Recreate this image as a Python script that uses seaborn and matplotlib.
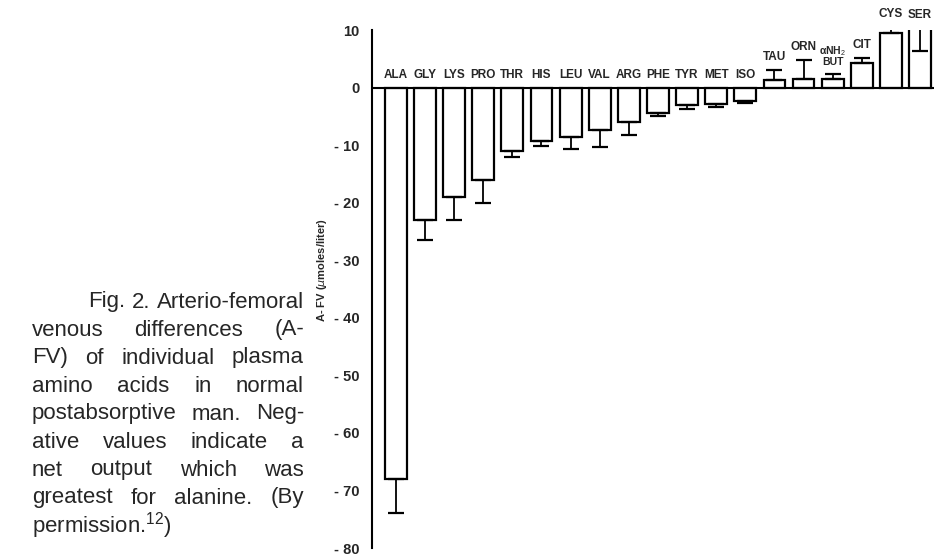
import numpy as np
import matplotlib
matplotlib.use('Agg')
import matplotlib.pyplot as plt
import seaborn as sns

# A-FV differences (umoles/liter)
amino = ['ALA', 'GLY', 'LYS', 'PRO', 'THR', 'HIS', 'LEU', 'VAL', 'ARG', 'PHE',
         'TYR', 'MET', 'ISO', 'TAU', 'ORN', 'αNH$_2$\nBUT', 'CIT', 'CYS', 'SER']
afv = [-68, -23, -19, -16, -11, -9.3, -8.6, -7.4, -6.0, -4.4,
       -3.1, -2.8, -2.3, 1.3, 1.5, 1.4, 4.2, 9.4, 10.3]
err_lo = [6, 3.5, 4, 4, 1, 0.9, 2, 3, 2.3, 0.6,
          0.6, 0.5, 0.3, 0, 0, 0, 0, 0, 3.9]
err_hi = [0, 0, 0, 0, 0, 0, 0, 0, 0, 0,
          0, 0, 0, 1.8, 3.3, 0.9, 0.9, 1.1, 0]
yticks = [10, 0, -10, -20, -30, -40, -50, -60, -70, -80]

caption = ['Fig. 2. Arterio-femoral',
           'venous differences (A-',
           'FV) of individual plasma',
           'amino acids in normal',
           'postabsorptive man. Neg-',
           'ative values indicate a',
           'net output which was',
           'greatest for alanine. (By',
           'permission.$^{\\mathrm{12}}$)']

sns.set_style('white')
plt.rcParams['font.family'] = ['Liberation Sans', 'DejaVu Sans']
plt.rcParams['mathtext.fontset'] = 'custom'
plt.rcParams['mathtext.rm'] = 'Liberation Sans'

W, H = 934, 557
fig = plt.figure(figsize=(W / 100, H / 100), dpi=100)
ax = fig.add_axes([372 / W, 1 - 548 / H, 1 - 372 / W, (548 - 30) / H])

x = np.arange(len(amino))
sns.barplot(x=x, y=afv, color='white', edgecolor='black', linewidth=1.6,
            width=0.75, errorbar=None, ax=ax, native_scale=True)
for p in ax.patches:
    p.set_facecolor('white')
ax.errorbar(x, afv, yerr=[err_lo, err_hi], fmt='none', ecolor='black',
            elinewidth=1.3, capsize=6, capthick=1.6)
ax.axhline(0, color='black', lw=1.5)

ax.set_ylim(-80, 10)
ax.set_xlim(-0.82, len(amino) - 1 + 0.48)
ax.set_yticks(yticks)
ax.set_yticklabels([str(v) if v >= 0 else '- %d' % -v for v in yticks],
                   fontsize=10.5, fontweight='bold')
ax.tick_params(axis='y', direction='in', length=7, width=1.2, pad=9)
ax.set_xticks([])
for s in ['top', 'right', 'bottom']:
    ax.spines[s].set_visible(False)
ax.spines['left'].set_linewidth(1.5)
ax.spines['left'].set_color('black')

# category labels: above zero line for negatives, above error bar for positives
for i, name in enumerate(amino):
    if afv[i] < 0:
        ytxt = 1.2
    else:
        ytxt = max(afv[i] + err_hi[i], afv[i]) + 1.2
    ax.text(i, ytxt, name, ha='center', va='bottom',
            fontsize=7.5 if '\n' in name else 8.5,
            fontweight='bold', clip_on=False, linespacing=0.9)

fig.text(322 / W, 1 - 270 / H, 'A- FV ($\\mu$moles/liter)', rotation=90,
         ha='center', va='center', fontsize=8, fontweight='bold')

# justified caption
renderer = fig.canvas.get_renderer()
x_left, x_right = 32, 304
fs = 16
for k, line in enumerate(caption):
    ypix = 302 + 28 * k
    x0 = 88 if k == 0 else x_left
    words = line.split(' ')
    if k == len(caption) - 1:
        fig.text(x0 / W, 1 - ypix / H, line, fontsize=fs, va='center', ha='left')
        continue
    texts = [fig.text(0, 1 - ypix / H, w, fontsize=fs, va='center', ha='left')
             for w in words]
    widths = [t.get_window_extent(renderer).width for t in texts]
    gap = max((x_right - x0 - sum(widths)) / max(len(words) - 1, 1), 4)
    pos = x0
    for t, w in zip(texts, widths):
        t.set_x(pos / W)
        pos += w + gap

fig.savefig('out.png', dpi=100)
